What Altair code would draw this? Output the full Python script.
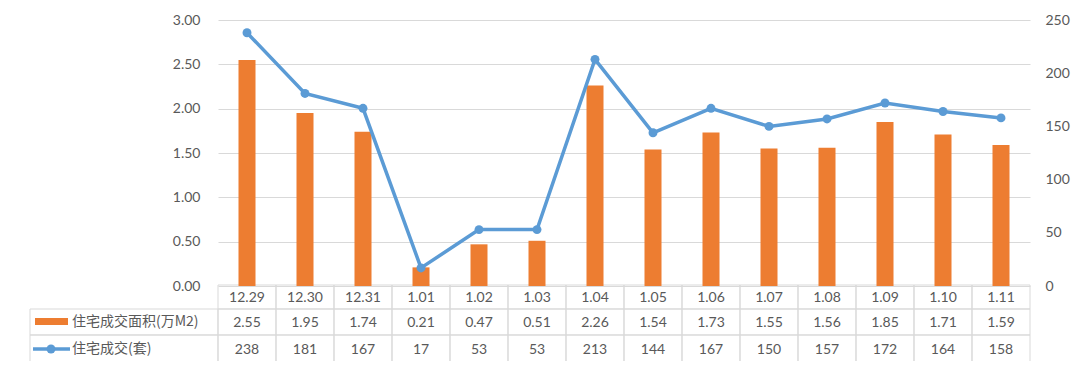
import altair as alt
import pandas as pd

dates = ["12.29", "12.30", "12.31", "1.01", "1.02", "1.03", "1.04",
         "1.05", "1.06", "1.07", "1.08", "1.09", "1.10", "1.11"]
area = [2.55, 1.95, 1.74, 0.21, 0.47, 0.51, 2.26, 1.54, 1.73, 1.55, 1.56, 1.85, 1.71, 1.59]
units = [238, 181, 167, 17, 53, 53, 213, 144, 167, 150, 157, 172, 164, 158]
series_names = ["住宅成交面积(万M2)", "住宅成交(套)"]
left_ticks = [0, 0.5, 1.0, 1.5, 2.0, 2.5, 3.0]
right_ticks = [0, 50, 100, 150, 200, 250]

df = pd.DataFrame({"date": dates, "area": area, "units": units})
df["area_txt"] = [f"{v:.2f}" for v in area]
df["units_txt"] = [str(v) for v in units]
leg = pd.DataFrame({"bar_name": [series_names[0]], "line_name": [series_names[1]]})

ORANGE = "#ED7D31"
BLUE = "#5B9BD5"
GRID = "#D9D9D9"
TXT = "#595959"
FONT = "Lato"
CJK = "Noto Sans CJK SC"

W, H = 812, 266
x = alt.X("date:N", sort=dates, axis=None,
          scale=alt.Scale(type="band", paddingInner=0, paddingOuter=0))

bars = alt.Chart(df).mark_bar(color=ORANGE, size=17).encode(
    x=x,
    y=alt.Y("area:Q", scale=alt.Scale(domain=[0, 3], nice=False),
            axis=alt.Axis(values=left_ticks, format=".2f", title=None, domain=False,
                          ticks=False, grid=True, gridColor=GRID, gridWidth=1,
                          labelColor=TXT, labelFont=FONT, labelFontSize=14,
                          labelPadding=18)),
)

line = alt.Chart(df).mark_line(color=BLUE, strokeWidth=3.5,
                               point=alt.OverlayMarkDef(color=BLUE, size=80, filled=True, opacity=1)).encode(
    x=x,
    y=alt.Y("units:Q", scale=alt.Scale(domain=[0, 250], nice=False),
            axis=alt.Axis(values=right_ticks, orient="right", title=None, domain=False,
                          ticks=False, grid=False, labelColor=TXT, labelFont=FONT,
                          labelFontSize=14, labelPadding=15)),
)

# data table rows (y offsets are below the plot area)
rows = [(265, 289), (289, 315), (315, 343)]
cell_layers = []
for (y0, y1) in rows:
    cell_layers.append(alt.Chart(df).mark_rect(fillOpacity=0, stroke=GRID, strokeWidth=1).encode(
        x=x, y=alt.value(y0), y2=alt.value(y1)))
for (y0, y1) in rows[1:]:
    cell_layers.append(alt.Chart(leg).mark_rect(fillOpacity=0, stroke=GRID, strokeWidth=1).encode(
        x=alt.value(-188), x2=alt.value(0), y=alt.value(y0), y2=alt.value(y1)))

def row_text(field, yc):
    return alt.Chart(df).mark_text(font=FONT, fontSize=14, color=TXT, baseline="middle").encode(
        x=x, y=alt.value(yc), text=alt.Text(f"{field}:N"))

t1 = row_text("date", (rows[0][0] + rows[0][1]) / 2 + 1)
t2 = row_text("area_txt", (rows[1][0] + rows[1][1]) / 2 + 1)
t3 = row_text("units_txt", (rows[2][0] + rows[2][1]) / 2 + 1)

# legend keys inside the table
sw = alt.Chart(leg).mark_rect(color=ORANGE).encode(
    x=alt.value(-183), x2=alt.value(-150), y=alt.value(298), y2=alt.value(305))
lk = alt.Chart(leg).mark_rule(color=BLUE, strokeWidth=3.5).encode(
    x=alt.value(-185), x2=alt.value(-148), y=alt.value(329))
lp = alt.Chart(leg).mark_point(color=BLUE, filled=True, size=80, opacity=1).encode(
    x=alt.value(-167), y=alt.value(329))
lt1 = alt.Chart(leg).mark_text(font=CJK, fontSize=14, color=TXT, align="left", baseline="middle").encode(
    x=alt.value(-146), y=alt.value(302), text="bar_name:N")
lt2 = alt.Chart(leg).mark_text(font=CJK, fontSize=14, color=TXT, align="left", baseline="middle").encode(
    x=alt.value(-146), y=alt.value(329), text="line_name:N")

chart = alt.layer(
    *cell_layers, bars, line, t1, t2, t3, sw, lk, lp, lt1, lt2
).resolve_scale(y="independent").properties(
    width=W, height=H,
    autosize=alt.AutoSizeParams(type="none"),
    padding={"left": 210, "top": 12, "right": 42, "bottom": 75},
    background="white",
).configure_view(stroke=None)

chart.save("out.html", embed_options={"renderer": "svg", "actions": False})
